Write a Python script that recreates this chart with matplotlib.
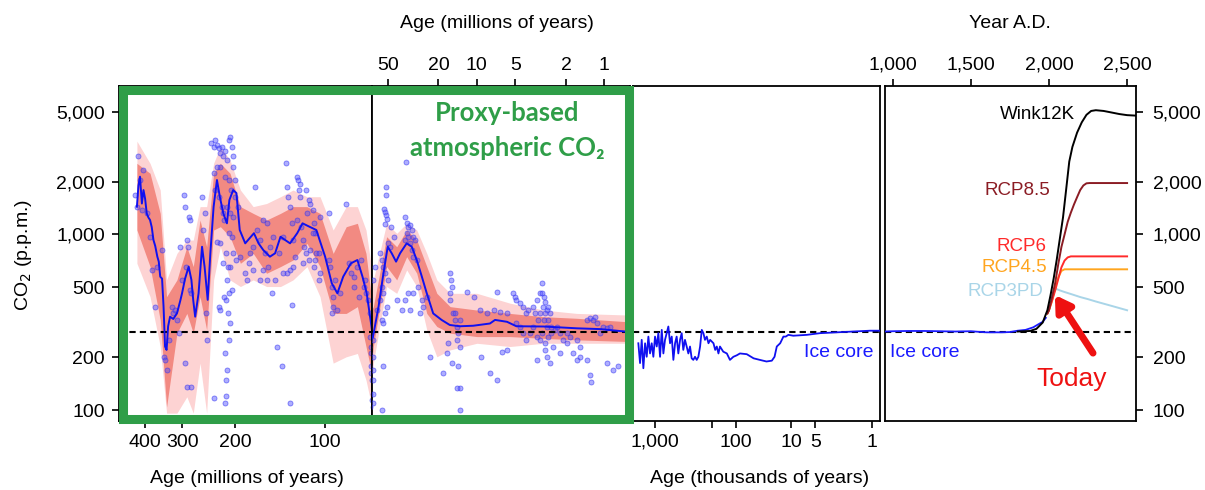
import numpy as np
import matplotlib
matplotlib.use('Agg')
import matplotlib.pyplot as plt
from matplotlib.ticker import NullLocator
from matplotlib.patches import Rectangle

plt.rcParams['font.family'] = ['Liberation Sans', 'DejaVu Sans']

# ---------------- data ----------------
# Proxy CO2 fit (age in Myr, CO2 ppm)
proxy_age = [426, 421, 416, 410, 405, 400, 395, 390, 385, 380, 375, 370, 364, 360, 356, 351, 347, 343,
             339, 335, 330, 322, 313, 305, 301, 294, 286, 280, 276, 272, 265, 258, 253, 247, 242, 236,
             230, 225, 219, 213, 209, 203, 198, 193, 185, 179, 173, 167, 161, 153, 147, 141, 136, 131,
             124, 119, 113, 107, 100, 95, 91, 87, 82, 78, 75, 72.6, 70, 69, 65.5, 63, 59, 54, 50, 46.5,
             43, 40, 35.5, 32.4, 29.6, 27, 24.7, 22, 18.9, 16.3, 13.6, 10.7, 7.9, 7.2, 5.8, 4.9, 3.0,
             1.64, 1.08, 0.69]
proxy_co2 = [1439, 1900, 2132, 1500, 1790, 1600, 1318, 1250, 1208, 1100, 929, 860, 747, 700, 575, 560,
             388, 230, 220, 300, 340, 330, 355, 420, 462, 560, 655, 551, 420, 340, 462, 851, 655, 424,
             781, 1439, 2042, 1640, 1318, 1157, 1571, 1790, 1720, 1060, 890, 950, 1016, 890, 815, 747,
             781, 970, 929, 890, 1016, 1157, 1108, 1060, 747, 527, 462, 575, 685, 715, 575, 462, 300,
             250, 258, 300, 388, 601, 851, 781, 700, 781, 890, 851, 715, 575, 462, 355, 326, 305, 300,
             302, 311, 326, 318, 300, 299, 292, 289, 280]

# Uncertainty envelopes
band_age = [426, 385, 356, 339, 313, 290, 276, 262, 249, 236, 224, 208, 192, 174, 157, 141, 128, 115,
            104, 94, 85, 78, 73, 69, 64.8, 51, 42.5, 35.5, 29.6, 24.7, 20.6, 16.2, 10, 5.5, 3.0, 1.65, 0.69]
dark_hi = [2540, 2230, 1318, 442, 551, 851, 656, 1208, 851, 2230, 2540, 2230, 1440, 1318, 1208, 1318,
           1440, 1440, 1318, 780, 1107, 1157, 780, 355, 388, 971, 851, 1060, 929, 656, 462, 388, 371,
           355, 340, 333, 319]
dark_lo = [1060, 656, 326, 104, 274, 355, 274, 442, 286, 1060, 1107, 971, 685, 780, 601, 656, 715, 889,
           656, 355, 355, 388, 230, 148, 230, 656, 551, 747, 601, 355, 299, 274, 262, 262, 256, 251, 246]
light_hi = [3400, 2540, 1790, 551, 780, 929, 929, 1440, 1440, 2540, 3160, 2655, 1790, 1440, 1500, 1640,
            1790, 1640, 1640, 1060, 1440, 1440, 1060, 551, 551, 1157, 1014, 1157, 1060, 780, 551, 462,
            462, 406, 371, 355, 348]
light_lo = [685, 442, 230, 96, 96, 119, 96, 185, 96, 551, 851, 551, 505, 551, 505, 505, 551, 656, 442,
            185, 201, 210, 148, 96, 185, 505, 462, 628, 505, 286, 201, 220, 240, 230, 240, 240, 240]

# Individual proxy estimates (age Myr, CO2 ppm)
sc_age = [432, 426, 421, 416, 410, 405, 395, 385, 380, 372, 366, 351, 347, 343, 334, 339, 326, 322, 318,
          313, 305, 301, 309, 297, 294, 292, 290, 288, 286, 284, 283, 281, 294, 290, 281, 258, 256, 253,
          250, 249,
          240, 236, 233, 230, 227, 224, 221, 219, 216, 213, 210, 208, 205, 203, 204, 209, 216, 224, 230,
          236, 233, 227, 221, 213, 208, 203, 210, 214, 219, 208, 213, 210, 215, 212, 208, 210, 216, 213,
          215, 214, 216, 236, 227, 224, 203, 198, 192, 224, 230, 205, 218, 206, 200, 196, 200, 220, 205,
          218, 211,
          185, 180, 183, 178, 174, 171, 169, 165, 161, 157, 153, 149, 159, 155, 174, 161, 165, 157, 151,
          147, 145, 139, 143, 138, 135, 134, 133, 131, 129, 128, 126, 124, 124, 123, 121, 122, 121, 120,
          119, 118, 116, 115, 113, 112, 110, 109, 108, 107, 105, 104, 119, 113, 109, 105, 104, 128, 131,
          134, 138, 129, 116, 110, 108, 112, 97, 131,
          97, 96, 95, 94, 93, 91, 89, 85, 83, 82, 80, 78, 76, 74, 73.5, 73, 72, 71, 80, 77, 94, 95,
          71, 70.5, 70, 69.5, 69, 69.5, 69, 70.5, 70,
          36, 51.5, 51.5, 53, 52.5, 51.5, 51, 52.5, 47, 45, 49.5, 48, 36.5, 35.5, 34.5, 33.4, 32.5, 35.5,
          36.5, 34.5, 33.4, 31.5, 30.5, 32.5, 31.5, 29.6, 57.5, 55.7, 54, 52.5, 49.5, 55.7, 54, 57.5, 51,
          52.5, 54, 55.7, 61, 63, 65, 65.5, 65.5, 65.2, 65.4, 65.3, 65.5, 55.7, 54,
          42.5, 38.8, 36.5, 34.5, 33.4, 31.5, 28.8, 27, 26.3, 24.7, 27.9, 23.3, 18.3, 16.2, 16, 15.7,
          16.3, 16.2, 15.3, 14.9, 14.4, 14, 13.6, 14.4, 16.7, 17.2, 15.7, 14, 13.6, 14.4, 13.6, 14.9,
          13.6, 12, 10.6, 9.4, 8.4, 7.4, 7, 6.6, 5.8, 9.2, 7, 6.4, 5.8, 7.9,
          5.2, 5.05, 4.9, 4.6, 4.35, 4.1, 4.0, 3.6, 3.4, 3.2, 3.1, 3.0, 2.93, 2.84, 2.76, 2.68, 3.2, 3.3,
          3.0, 2.84, 3.1, 3.4, 3.2, 2.93, 2.76, 2.6, 2.45, 2.37, 2.23, 2.1, 3.6, 3.8, 4.1, 4.35, 4.6, 4.9,
          3.4, 2.93, 2.84, 2.68, 2.51, 2.23, 1.98, 1.75, 1.65, 1.55, 1.38, 1.3, 1.28, 1.38, 1.3, 1.22,
          1.18, 1.15, 1.08, 1.02, 0.96, 0.9, 0.96, 0.85, 0.78, 1.98, 1.87, 1.65, 1.55, 3.1, 2.93, 2.76,
          2.6, 3.5, 3.05]
sc_co2 = [1675, 1440, 2800, 2042, 1380, 2330, 1318, 971, 628, 388, 656, 815, 201, 193, 251, 169, 388, 355,
          371, 326, 851, 551, 274, 1675, 1440, 656, 929, 851, 1260, 1208, 483, 462, 185, 136, 136, 1640,
          1060, 1318, 355, 251,
          3300, 3160, 3450, 3230, 3100, 2900, 3160, 2800, 3000, 2655, 3450, 3605, 3160, 2800, 2430, 2042,
          2130, 2430, 2430, 2230, 1790, 1640, 1440, 1440, 1318, 1260, 1014, 780, 685, 656, 551, 462, 424,
          355, 312, 251, 210, 169, 148, 120, 110, 117, 388, 371, 780, 715, 747, 889, 910, 971, 1208, 1790,
          1640, 1440, 2042, 1318, 483, 442, 656,
          601, 685, 551, 780, 851, 1870, 1060, 929, 1208, 1157, 851, 971, 780, 656, 628, 628, 551, 551,
          462, 551, 230, 177, 780, 971, 2540, 1870, 1640, 1440, 1157, 929, 747, 1208, 2130, 2042, 1950,
          1790, 1640, 1107, 929, 851, 780, 1318, 1570, 1500, 1380, 1157, 1014, 780, 780, 1260, 685, 715,
          656, 551, 601, 656, 628, 601, 601, 397, 1790, 1014, 715, 815, 1318, 110,
          715, 656, 505, 442, 551, 371, 462, 1500, 685, 601, 575, 656, 715, 505, 551, 462, 424, 355, 505,
          442, 388, 355,
          262, 210, 177, 148, 124, 114, 104, 230, 162,
          2590, 1870, 1675, 1405, 1350, 1290, 1230, 1150, 1107, 971, 889, 851, 1260, 1157, 1107, 1130,
          1060, 1014, 929, 971, 889, 971, 929, 815, 747, 715, 780, 715, 656, 601, 551, 505, 462, 424, 388,
          355, 312, 326, 371, 656, 551, 251, 201, 169, 148, 124, 110, 100, 177,
          424, 371, 424, 462, 371, 462, 505, 424, 388, 442, 355, 201, 162, 601, 551, 505, 462, 424, 355,
          326, 299, 274, 230, 251, 240, 210, 185, 177, 133, 133, 100, 355, 326, 472, 442, 371, 355, 371,
          472, 363, 355, 201, 148, 215, 220, 162,
          462, 442, 424, 406, 388, 355, 371, 388, 424, 462, 527, 442, 415, 371, 388, 355, 355, 326, 326,
          299, 274, 262, 251, 240, 262, 274, 286, 299, 274, 251, 299, 274, 251, 274, 299, 312, 193, 220,
          201, 185, 230, 210, 240, 210, 193, 201, 193, 158, 145, 326, 333, 326, 340, 312, 274, 299, 292,
          299, 185, 169, 177, 274, 262, 251, 230, 462, 355, 326, 299, 355, 388]

# Ice core (age kyr, CO2 ppm)
ice_age = [1607, 1531, 1460, 1393, 1327, 1267, 1208, 1153, 1099, 1049, 1000, 953, 910, 867, 826, 789,
           753, 718, 685, 653, 622, 594, 566, 541, 516, 491, 469, 448, 427, 407, 388, 370, 353, 337,
           321, 306, 292, 278, 265, 253, 242, 230, 219, 209, 190, 181, 173, 165, 158, 144, 130, 119,
           108, 97, 85, 64, 48, 37, 28, 22.4, 20, 18.2, 15.8, 13.8, 12.5, 11.2, 9.4, 6.4, 4.4, 2.73,
           1.70, 1.06, 0.80]
ice_co2 = [240, 185, 251, 173, 240, 201, 262, 210, 240, 201, 262, 230, 274, 201, 286, 210, 251, 274,
           299, 240, 262, 193, 240, 262, 210, 251, 274, 220, 251, 230, 210, 230, 197, 193, 201, 193,
           201, 230, 286, 274, 251, 262, 240, 251, 240, 220, 230, 210, 230, 215, 210, 193, 201, 205,
           210, 208, 197, 193, 189, 191, 201, 230, 240, 262, 262, 268, 265, 268, 274, 277, 280, 283, 283]

# Year A.D. panel
ice_year = [951, 1000, 1100, 1200, 1300, 1400, 1500, 1600, 1700, 1750, 1800, 1850, 1900, 1930, 1960, 1980]
ice_ad = [280, 281, 282, 282, 281, 280, 281, 277, 277, 278, 283, 286, 296, 307, 318, 335]
wink_year = [1800, 1880, 1920, 1960, 1990, 2010, 2030, 2050, 2070, 2090, 2110, 2130, 2150, 2180, 2210,
             2240, 2270, 2300, 2350, 2400, 2450, 2500, 2557]
wink = [280, 282, 290, 315, 370, 450, 560, 720, 950, 1250, 1800, 2600, 3150, 3800, 4350, 4800, 5050,
        5100, 5050, 4950, 4850, 4780, 4750]
rcp85_year = [1990, 2000, 2020, 2040, 2060, 2080, 2100, 2120, 2140, 2160, 2180, 2200, 2220, 2240, 2260, 2500]
rcp85 = [355, 370, 440, 530, 680, 850, 1000, 1180, 1330, 1480, 1630, 1790, 1900, 1955, 1962, 1962]
rcp6_year = [1990, 2000, 2020, 2040, 2060, 2080, 2100, 2120, 2140, 2500]
rcp6 = [355, 370, 420, 480, 560, 650, 710, 740, 750, 750]
rcp45_year = [1990, 2000, 2020, 2040, 2060, 2080, 2100, 2500]
rcp45 = [355, 370, 420, 500, 570, 620, 633, 633]
rcp3_year = [1990, 2000, 2015, 2030, 2045, 2070, 2100, 2150, 2200, 2250, 2300, 2400, 2500]
rcp3 = [355, 370, 440, 480, 490, 480, 470, 455, 440, 428, 415, 392, 370]

ytick_vals = [100, 200, 500, 1000, 2000, 5000]
ytick_lab = ['100', '200', '500', '1,000', '2,000', '5,000']
myr_bottom = [400, 300, 200, 100]
myr_top = [50, 20, 10, 5, 2, 1]
kyr_ticks = [1000, 200, 100, 10, 5, 1]
kyr_lab = ['1,000', '', '100', '10', '5', '1']
ad_ticks = [1000, 1500, 2000, 2500]
ad_lab = ['1,000', '1,500', '2,000', '2,500']
preind = 280

# ---------------- figure ----------------
W, H = 1205, 490
fig = plt.figure(figsize=(W / 100, H / 100), dpi=100)


def rect(x0, x1, y0=86, y1=421):
    return [x0 / W, 1 - y1 / H, (x1 - x0) / W, (y1 - y0) / H]


ax1 = fig.add_axes(rect(119, 372))
ax2 = fig.add_axes(rect(372, 630))
ax3 = fig.add_axes(rect(633, 880))
ax4 = fig.add_axes(rect(885, 1136))


def fwd(a):
    u = np.log10(np.clip(np.asarray(a, float), 1e-9, None))
    return np.where(u <= 1, 81 * u, np.where(u <= 2, 81 + 55 * (u - 1), 136 + 81 * (u - 2)))


def inv(p):
    p = np.asarray(p, float)
    u = np.where(p <= 81, p / 81, np.where(p <= 136, 1 + (p - 81) / 55, 2 + (p - 136) / 81))
    return 10 ** u


ax1.set_xscale('log')
ax2.set_xscale('log')
ax3.set_xscale('function', functions=(fwd, inv))

for ax in (ax1, ax2, ax3, ax4):
    ax.set_yscale('log')
    ax.set_ylim(86.6, 7005)
    ax.yaxis.set_minor_locator(NullLocator())
    ax.xaxis.set_minor_locator(NullLocator())
    ax.axhline(preind, color='black', ls=(0, (3, 2)), lw=1.5, zorder=4)
    for s in ax.spines.values():
        s.set_linewidth(1.3)
    ax.tick_params(which='both', direction='out', length=5, width=1.2, labelsize=14, pad=4)
    ax.tick_params(axis='y', which='both', left=False, labelleft=False)
    ax.tick_params(axis='x', which='both', bottom=False, labelbottom=False)

ax1.set_xlim(489, 69.7)
ax2.set_xlim(66.4, 0.63)
ax3.set_xlim(1870, 0.8)
ax4.set_xlim(951, 2557)

# Proxy panels
for ax in (ax1, ax2):
    ax.fill_between(band_age, light_lo, light_hi, color='#fdd3d3', lw=0, zorder=1)
    ax.fill_between(band_age, dark_lo, dark_hi, color='#f28a82', lw=0, zorder=2)
    ax.scatter(sc_age, sc_co2, s=13, facecolor=(0.3, 0.3, 1.0, 0.45),
               edgecolor=(0.2, 0.2, 0.95, 0.6), linewidths=0.6, zorder=3)
    ax.plot(proxy_age, proxy_co2, color='#1010f0', lw=1.4, zorder=5)

ax1.tick_params(axis='x', bottom=True, labelbottom=True)
ax1.set_xticks(myr_bottom)
ax1.set_xticklabels([str(v) for v in myr_bottom])
ax1.tick_params(axis='y', left=True, labelleft=True, pad=5)
ax1.set_yticks(ytick_vals)
ax1.set_yticklabels(ytick_lab)

ax2.xaxis.set_ticks_position('top')
ax2.tick_params(axis='x', top=True, labeltop=True)
ax2.set_xticks(myr_top)
ax2.set_xticklabels([str(v) for v in myr_top])

# Ice core panel
ax3.plot(ice_age, ice_co2, color='#1010f0', lw=1.3, zorder=5)
ax3.tick_params(axis='x', bottom=True, labelbottom=True)
ax3.set_xticks(kyr_ticks)
ax3.set_xticklabels(kyr_lab)
ax3.xaxis.set_minor_locator(NullLocator())
ax3.text(0.972, 0.203, 'Ice core', transform=ax3.transAxes, ha='right', va='center',
         color='#1a1aff', fontsize=14)

# Year AD panel
ax4.plot(ice_year, ice_ad, color='#1a1aff', lw=1.3, zorder=5)
ax4.plot(rcp3_year, rcp3, color='#a9d5e8', lw=1.4, zorder=5)
ax4.plot(rcp45_year, rcp45, color='#ffa51f', lw=1.4, zorder=5)
ax4.plot(rcp6_year, rcp6, color='#ff2a2a', lw=1.4, zorder=5)
ax4.plot(rcp85_year, rcp85, color='#8b1c24', lw=1.4, zorder=5)
ax4.plot(wink_year, wink, color='black', lw=1.4, zorder=6)
ax4.xaxis.set_ticks_position('top')
ax4.tick_params(axis='x', top=True, labeltop=True)
ax4.set_xticks(ad_ticks)
ax4.set_xticklabels(ad_lab)
ax4.yaxis.set_ticks_position('right')
ax4.tick_params(axis='y', right=True, labelright=True, pad=7)
ax4.set_yticks(ytick_vals)
ax4.set_yticklabels(ytick_lab)

ax4.text(0.02, 0.203, 'Ice core', transform=ax4.transAxes, ha='left', va='center',
         color='#1a1aff', fontsize=14)
lab_fs = 13.5
ax4.text(2166, 4790, 'Wink12K', ha='right', va='center', color='black', fontsize=lab_fs)
ax4.text(2006, 1790, 'RCP8.5', ha='right', va='center', color='#8b1c24', fontsize=lab_fs)
ax4.text(1987, 851, 'RCP6', ha='right', va='center', color='#ff2a2a', fontsize=lab_fs)
ax4.text(1987, 644, 'RCP4.5', ha='right', va='center', color='#ffa51f', fontsize=lab_fs)
ax4.text(1962, 472, 'RCP3PD', ha='right', va='center', color='#a9d5e8', fontsize=lab_fs)
ax4.annotate('', xy=(2038, 452), xytext=(2282, 211),
             arrowprops=dict(arrowstyle='-|>,head_length=0.9,head_width=0.55', color='#ee1111',
                             lw=5, shrinkA=0, shrinkB=0), zorder=8)
ax4.text(2145, 150, 'Today', ha='center', va='center', color='#ee1111', fontsize=19)

# Axis titles
fig.text(23 / W, 1 - 255 / H, 'CO$_2$ (p.p.m.)', rotation=90, ha='center', va='center', fontsize=14)
fig.text(497 / W, 1 - 23 / H, 'Age (millions of years)', ha='center', va='center', fontsize=14)
fig.text(1010 / W, 1 - 23 / H, 'Year A.D.', ha='center', va='center', fontsize=14)
fig.text(247 / W, 1 - 478 / H, 'Age (millions of years)', ha='center', va='center', fontsize=14)
fig.text(760 / W, 1 - 478 / H, 'Age (thousands of years)', ha='center', va='center', fontsize=14)

# Green highlight box and label
green = '#2f9e48'
fig.add_artist(Rectangle((123 / W, 1 - 419 / H), (629 - 123) / W, (419 - 90) / H,
                         transform=fig.transFigure, fill=False, ec=green, lw=6.5, zorder=10))
fig.text(507 / W, 1 - 113 / H, 'Proxy-based', ha='center', va='center', color=green,
         fontsize=18.5, fontweight='bold', family=['Lato', 'DejaVu Sans'])
fig.text(507 / W, 1 - 148 / H, 'atmospheric CO\u2082', ha='center', va='center', color=green,
         fontsize=18.5, fontweight='bold', family=['Lato', 'DejaVu Sans'])

fig.savefig('out.png', dpi=100)
